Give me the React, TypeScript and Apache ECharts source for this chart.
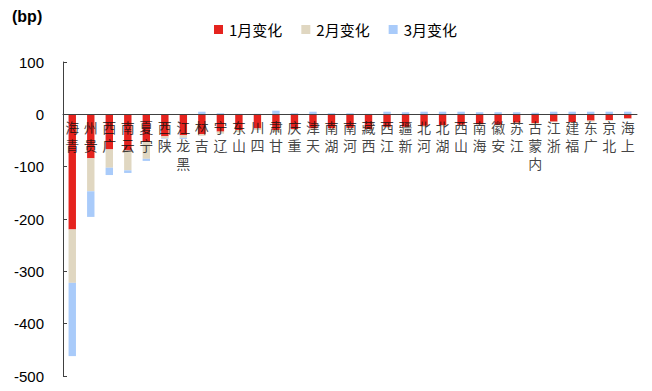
import React, { useEffect, useRef } from "react";
import * as echarts from "echarts";

// Provinces, ordered by total change
const provinces = [
  "青海", "贵州", "广西", "云南", "宁夏", "陕西", "黑龙江", "吉林", "辽宁", "山东",
  "四川", "甘肃", "重庆", "天津", "湖南", "河南", "西藏", "江西", "新疆", "河北",
  "湖北", "山西", "海南", "安徽", "江苏", "内蒙古", "浙江", "福建", "广东", "北京", "上海",
];

// Monthly changes, bp
const janChange = [
  -220, -84, -67, -69, -53, -42, -40, -38, -33, -30,
  -27, -30, -28, -27, -27, -26, -28, -24, -24, -22,
  -21, -20, -19, -20, -16, -17, -14, -15, -12, -11, -8,
];
const febChange = [
  -102, -63, -35, -38, -32, -4, -5, -3, -4, -4,
  -3, -4, -2, -3, -2, -2, -1, -2, -2, -2,
  -2, -1, -1, -2, -1, -3, -1, -1, -2, -1, -1,
];
const marChange = [
  -140, -49, -14, -5, -4, -1, -2, 5, 2, 1,
  1, 7, 2, 5, 2, 2, 1, 5, 4, 5,
  5, 5, 4, 4, 4, 3, 5, 5, 5, 5, 5,
];

const seriesNames = ["1月变化", "2月变化", "3月变化"];
const seriesColors = ["#E5231E", "#E0D7C1", "#A9CBFA"];

const yTicks = { min: -500, max: 100, interval: 100 };

export default function App() {
  const ref = useRef<HTMLDivElement>(null);

  useEffect(() => {
    if (!ref.current) return;
    const chart = echarts.init(ref.current, undefined, { renderer: "svg" });
    const values = [janChange, febChange, marChange];
    chart.setOption({
      animation: false,
      backgroundColor: "#ffffff",
      title: {
        text: "(bp)",
        left: 12,
        top: 8,
        padding: 0,
        textStyle: {
          fontFamily: "Arial, 'Liberation Sans', sans-serif",
          fontSize: 16,
          fontWeight: "bold",
          color: "#000",
        },
      },
      legend: {
        left: 214,
        top: 22,
        padding: 0,
        itemWidth: 9,
        itemHeight: 9,
        itemGap: 19,
        icon: "rect",
        textStyle: {
          fontFamily: "'Noto Sans CJK SC', Arial, sans-serif",
          fontSize: 15,
          color: "#000",
          padding: [0, 0, 0, 1],
        },
        data: seriesNames,
      },
      grid: {
        left: 63,
        right: 15,
        top: 62,
        bottom: 15,
        containLabel: false,
        outerBoundsMode: "none",
      },
      xAxis: {
        type: "category",
        data: provinces,
        z: 10,
        axisLine: { onZero: true, lineStyle: { color: "#404040", width: 1 } },
        axisTick: { inside: true, length: 4, lineStyle: { color: "#404040" } },
        axisLabel: { show: false },
      },
      yAxis: {
        type: "value",
        min: yTicks.min,
        max: yTicks.max,
        interval: yTicks.interval,
        axisLine: { show: true, lineStyle: { color: "#404040", width: 1 } },
        axisTick: { show: true, inside: true, length: 4, lineStyle: { color: "#404040" } },
        splitLine: { show: false },
        axisLabel: {
          margin: 19,
          fontFamily: "Arial, 'Liberation Sans', sans-serif",
          fontSize: 15,
          color: "#000",
        },
      },
      series: [
        ...seriesNames.map((name, i) => ({
          name,
          type: "bar",
          stack: "total",
          barWidth: "40%",
          itemStyle: { color: seriesColors[i] },
          data: values[i],
        })),
        {
          // province names stacked vertically just under the zero line
          type: "scatter",
          z: 10,
          symbolSize: 0,
          silent: true,
          data: provinces.map((p) => [p, 0]),
          label: {
            show: true,
            position: "bottom",
            distance: 4,
            fontFamily: "'Noto Sans CJK SC', sans-serif",
            fontSize: 14,
            lineHeight: 18,
            color: "#111",
            formatter: (p: any) => String(p.name || p.value[0]).split("").reverse().join("\n"),
          },
        },
      ],
    });
    return () => chart.dispose();
  }, []);

  return (
    <div
      ref={ref}
      style={{ position: "fixed", left: 0, top: 0, width: 652, height: 391 }}
    />
  );
}
